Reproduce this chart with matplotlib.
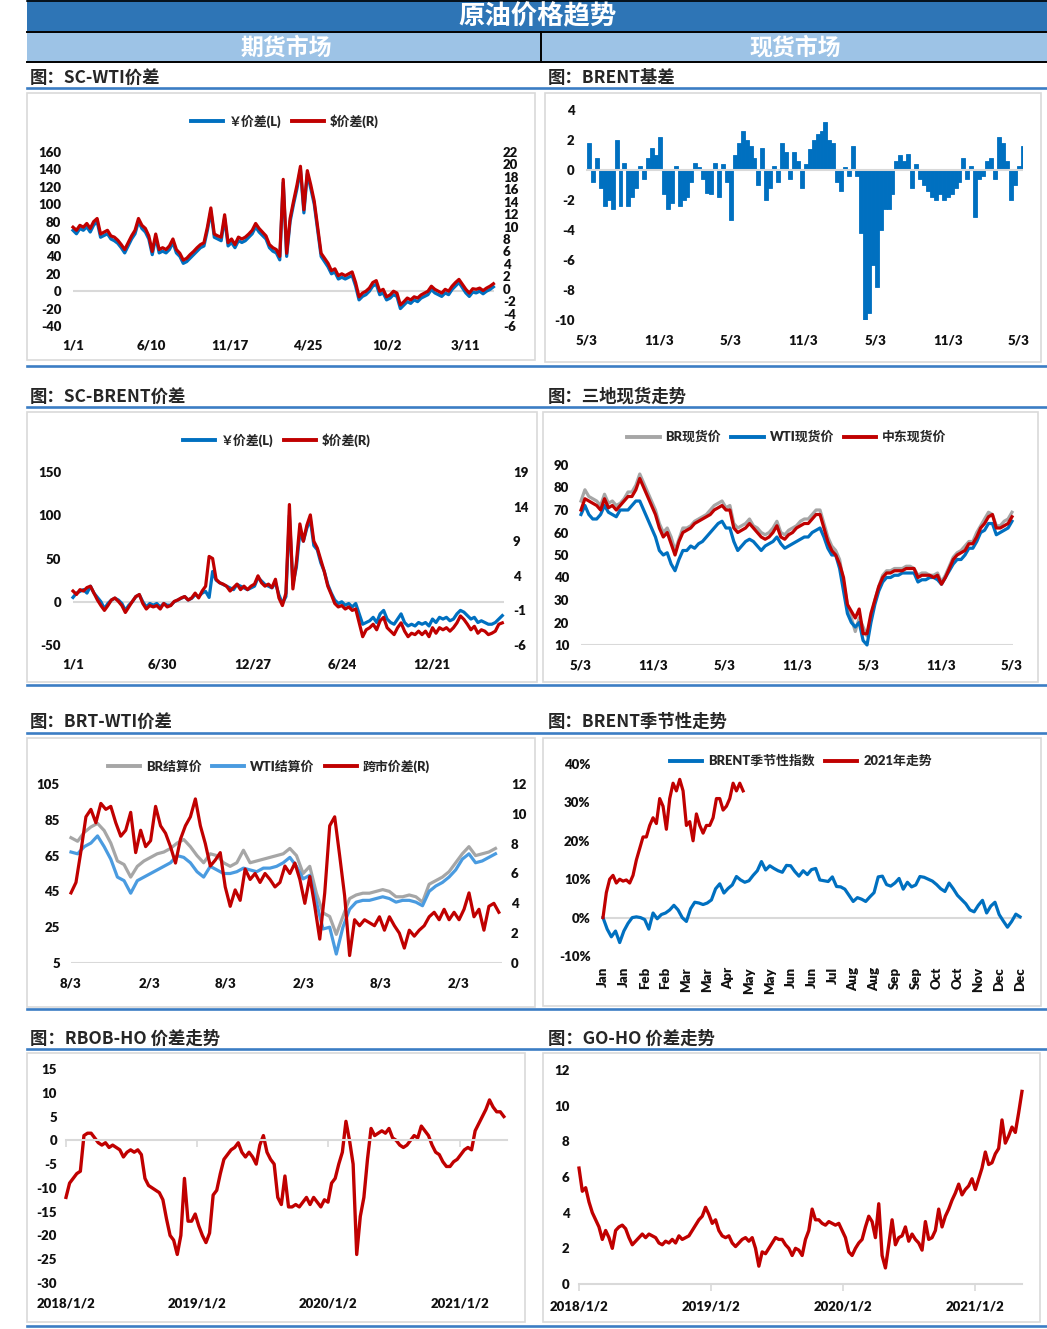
import numpy as np
import pandas as pd
import matplotlib
matplotlib.use('Agg')
import matplotlib.pyplot as plt
import matplotlib.dates as mdates
from matplotlib.patches import Rectangle
from matplotlib.lines import Line2D
from matplotlib.transforms import blended_transform_factory

plt.rcParams['font.family'] = ['Lato', 'Noto Sans CJK SC', 'DejaVu Sans']
plt.rcParams['font.weight'] = 'heavy'
plt.rcParams['axes.unicode_minus'] = False

# ---------------- data ----------------
# SC-WTI spread (weekly, 2019-01-01 .. 2021-05-08)
sc_wti_cny = [70,66,72,70,74,68,76,80,62,64, 66,60,58,55,50,44,52,60,66,80,
              72,68,60,42,62,44,46,44,48,56, 44,40,32,34,38,42,46,50,52,70,
              92,62,60,58,84,52,56,50,58,56, 58,62,66,74,68,64,60,50,46,44,
              36,125,40,80,100,118,140,90,135,118, 100,70,40,34,28,20,22,14,16,14,
              16,18,6,-10,-6,-4,0,6,8,-4, -2,-10,-8,-4,-6,-20,-16,-12,-14,-10,
              -12,-8,-6,-4,2,-2,-4,-6,-2,-4, 2,6,10,4,-2,-6,-1,-2,0,-3, 0,2,5]
sc_wti_usd = [9.9,9.4,10.2,9.9,10.5,9.7,10.8,11.3,8.8,9.1, 9.4,8.5,8.3,7.8,7.1,6.3,7.4,8.5,9.4,11.3,
              10.2,9.7,8.5,6.0,8.8,6.3,6.6,6.3,6.9,8.0, 6.3,5.7,4.6,4.9,5.5,6.0,6.6,7.1,7.4,9.9,
              13.0,8.8,8.5,8.3,11.9,7.4,8.0,7.1,8.3,8.0, 8.3,8.8,9.4,10.5,9.7,9.1,8.5,7.1,6.6,6.3,
              5.2,17.6,5.7,11.3,14.1,16.7,19.7,12.7,19.0,16.7, 14.1,9.9,5.7,4.9,4.1,2.9,3.2,2.1,2.4,2.1,
              2.4,2.7,1.0,-1.3,-0.7,-0.4,0.1,1.0,1.3,-0.4, -0.1,-1.3,-1.0,-0.4,-0.7,-2.6,-2.1,-1.5,-1.8,-1.3,
              -1.5,-1.0,-0.7,-0.4,0.4,-0.1,-0.4,-0.7,-0.1,-0.4, 0.4,1.0,1.5,0.7,-0.1,-0.7,0.0,-0.1,0.1,-0.3,
              0.1,0.4,0.8]
sc_wti_ticks = ['2019-01-01', '2019-06-10', '2019-11-17', '2020-04-25', '2020-10-02', '2021-03-11']
sc_wti_labels = ['1/1', '6/10', '11/17', '4/25', '10/2', '3/11']

# BRENT basis (10-day bars from 2018-05-03)
brent_basis = [1.8,-0.8,0.8,-1.2,-2.4,-2.0,-2.6,2.0,-2.4,0.5, -2.4,-1.8,-1.2,0.3,-0.6,0.8,1.5,1.0,2.2,-1.6,
               -2.6,-2.2,0.3,-2.4,-2.0,-1.8,-0.8,0.5,0.2,-0.6, -1.5,-1.6,0.5,-1.8,0.4,-0.8,-3.3,1.0,1.8,2.6,
               2.0,1.6,0.8,-1.0,1.5,-2.0,-1.2,0.3,-0.8,1.8, 1.2,-0.6,1.2,0.6,-1.2,0.4,1.4,2.0,2.4,2.6,
               3.2,2.0,1.8,-0.8,-1.4,0.2,-0.4,1.6,-0.4,-4.2, -10.0,-9.5,-6.3,-7.8,-4.0,-2.6,-2.6,-1.6,0.6,1.0,
               0.6,1.1,-1.2,0.4,-0.6,-1.0,-1.4,-1.8,-2.0,-1.6, -2.0,-1.8,-1.6,-1.2,-0.8,0.8,-0.6,0.3,-3.1,-0.6,
               -0.4,0.6,0.8,-0.6,2.2,1.8,0.6,-2.0,-1.0,0.3, 1.6]
spot_ticks = ['2018-05-03', '2018-11-03', '2019-05-03', '2019-11-03', '2020-05-03', '2020-11-03', '2021-05-03']
spot_labels = ['5/3', '11/3', '5/3', '11/3', '5/3', '11/3', '5/3']

# SC-BRENT spread (weekly, 2019-01-01 .. 2021-05-11)
sc_brent_cny = [5,10,12,14,10,18,10,5,0,-8, -2,2,4,2,-2,-10,-4,0,6,8,
                0,-6,-2,-4,-2,-6,-2,-4,-4,0, 2,4,6,2,4,8,6,10,12,5,
                35,25,22,20,18,16,14,20,18,16, 14,16,18,28,24,20,18,16,22,8,
                -2,6,100,20,40,80,70,85,95,65, 60,45,35,20,10,2,-2,0,-4,-2,
                -6,-2,-14,-26,-24,-22,-18,-24,-14,-10, -20,-24,-26,-20,-14,-24,-28,-26,-28,-24,
                -26,-24,-28,-20,-24,-18,-20,-18,-22,-20, -14,-10,-12,-16,-20,-18,-24,-22,-24,-26,
                -26,-24,-20,-16]
sc_brent_usd = [1.8,1.3,2.0,1.8,2.3,2.5,1.5,0.5,-0.3,-1.0, -0.3,0.5,0.8,0.3,-0.3,-1.3,-0.5,0.3,1.0,1.3,
                0.0,-0.8,-0.3,-0.5,-0.3,-0.8,0.0,-0.5,-0.3,0.3, 0.5,0.8,1.0,0.5,0.8,1.5,0.8,1.8,2.5,6.8,
                6.5,3.5,3.0,2.8,2.5,1.8,2.3,2.8,2.0,2.5, 2.0,2.5,2.8,4.0,3.0,2.5,2.8,2.3,3.5,0.8,
                -0.3,1.5,14.3,2.1,5.9,11.5,9.0,11.3,12.8,9.0, 8.0,6.3,4.6,2.5,1.3,0.0,-0.5,-0.3,-0.8,-0.5,
                -1.0,-0.8,-2.8,-4.8,-3.8,-3.5,-3.0,-3.8,-2.5,-2.0, -3.5,-4.0,-4.5,-3.5,-2.8,-4.0,-4.8,-4.3,-4.5,-4.0,
                -4.5,-4.0,-4.8,-3.5,-4.3,-3.5,-3.8,-3.5,-4.0,-3.5, -2.8,-1.8,-2.3,-3.0,-3.8,-3.3,-4.3,-3.8,-4.0,-4.5,
                -4.3,-4.0,-3.0,-2.8]
sc_brent_ticks = ['2019-01-01', '2019-06-30', '2019-12-27', '2020-06-24', '2020-12-21']
sc_brent_labels = ['1/1', '6/30', '12/27', '6/24', '12/21']

# three spot prices (10-day steps, 2018-05-03 .. 2021-05-03)
spot_br = [74,79,76,75,74,72,77,73,74,72, 73,75,78,78,81,86,82,78,74,70,
           64,60,62,58,52,57,62,62,63,65, 66,67,68,70,72,73,74,71,72,64,
           62,63,64,66,63,62,60,59,60,62, 65,60,59,61,62,63,65,66,66,68,
           70,70,64,58,54,52,48,38,28,22, 16,22,18,14,22,30,36,41,43,43,
           44,44,44,45,45,44,41,42,42,41, 41,42,38,41,45,49,51,52,54,56,
           56,60,63,66,69,68,63,63,65,66, 69]
spot_wti = [68,72,68,66,66,68,72,69,68,67, 70,70,70,72,74,74,70,66,62,58,
            52,50,51,46,43,48,52,52,54,53, 55,56,58,60,62,64,65,62,62,56,
            52,54,56,57,56,54,52,54,55,56, 58,55,53,54,55,56,57,58,58,60,
            61,62,58,53,50,50,44,34,24,20, 18,20,12,10,20,28,34,38,40,40,
            41,41,42,42,42,42,38,39,39,40, 40,39,37,40,43,46,48,48,50,53,
            53,56,60,61,64,64,59,60,61,62, 65]
spot_me = [70,75,74,73,72,70,75,71,72,70, 72,74,76,76,79,84,80,76,72,68,
           62,58,60,55,50,56,60,61,62,64, 65,66,67,68,70,71,72,70,70,62,
           60,61,62,64,62,60,58,57,58,60, 63,58,57,59,60,62,63,64,64,66,
           68,68,62,56,52,50,46,40,28,25, 22,26,15,15,24,30,36,40,42,42,
           43,43,43,44,44,44,40,41,41,41, 40,41,37,40,44,48,50,51,52,55,
           55,58,62,64,67,68,62,62,63,64, 67]

# BRT-WTI
brt_settle = [75,73,78,81,83,79,72,62,60,53, 59,62,64,66,67,69,72,74,70,65,
              61,66,65,61,59,61,68,61,62,63, 64,65,66,69,65,55,59,44,33,31,
              21,31,41,43,44,44,45,46,45,42, 42,43,42,39,49,51,53,56,61,66,
              70,65,66,67,69]
wti_settle = [67,66,70,72,76,70,63,53,51,44, 51,53,55,57,59,61,65,64,61,56,
              53,59,57,55,55,56,58,57,56,58, 58,59,61,64,59,52,54,39,24,25,
              10,25,35,39,40,40,41,42,41,39, 40,40,39,37,45,48,50,53,57,63,
              66,61,62,64,66]
brt_wti_spread = [4.7,5.4,7.5,9.8,10.3,9.4,10.7,10.3,10.5,9.4, 8.5,8.9,10.1,7.4,8.9,7.8,8.2,10.5,9.2,8.7,
                  7.8,6.7,8.3,9.2,9.8,11.0,9.2,8.0,6.5,6.9, 7.4,5.1,3.8,4.9,4.2,6.3,5.6,6.0,5.4,6.0,
                  5.6,5.1,5.4,6.5,6.0,6.7,5.6,4.0,5.8,3.8, 1.6,4.7,9.2,9.8,7.2,4.5,0.5,2.9,2.5,2.9,
                  2.7,2.5,3.1,2.2,3.1,2.5,2.0,1.0,2.2,1.8, 2.2,2.5,3.1,3.4,2.9,3.6,2.9,3.4,2.9,3.6,
                  4.7,3.1,3.6,2.2,3.8,4.0,3.4]
brt_ticks = ['2018-08-03', '2019-02-03', '2019-08-03', '2020-02-03', '2020-08-03', '2021-02-03']
brt_labels = ['8/3', '2/3', '8/3', '2/3', '8/3', '2/3']

# BRENT seasonality (% , trading-day index 0..250)
season_index = [0,-3,-5,-3.5,-6.5,-3.5,-1.5,0,0.2,0, -0.5,-3,1.2,-0.3,0.8,1.2,2,3.2,2,0,
                -1,2.3,4,3.8,3.4,3.8,4.6,7.5,8.8,6.4, 7.6,8.5,10.7,9.8,9.2,9.6,11,12.2,14.6,12.4,
                13.5,12.8,12.2,11.8,13.6,13.5,12,10.8,12.2,11.2, 12.5,12.8,9.8,9.6,9.4,10.6,8.1,8.0,7.4,5.8,
                4.2,5.2,4.8,4.2,5.4,6.5,10.6,10.8,8.6,8.2, 9.0,10.2,7.4,9.2,8.0,8.5,10.7,10.5,10.0,9.5,
                8.6,7.5,6.8,9.0,7.5,5.8,4.7,3.6,2.0,1.5, 3.2,4.5,1.2,3.0,4.0,0.8,-0.9,-2.5,-1.0,0.9,
                0.2]
season_2021 = [0,6.5,10,11,9,10,9.5,9.8,9,11, 15,18,21,21,24,26,24.5,31,29,23,
               31,35,33,36,33,24,25,20,27,24, 22,24,24,26,31,31,28,29,31,35,
               33,35,33]
months = ['Jan','Jan','Feb','Feb','Mar','Mar','Apr','May','May','Jun','Jun',
          'Jul','Aug','Aug','Sep','Sep','Oct','Oct','Nov','Dec','Dec']

# RBOB-HO and GO-HO
rbob_ho = [-12,-9,-8,-7,-6.5,1,1.5,1.5,0.5,-0.5, -1,-0.5,-1.5,-1,-1.5,-2,-3.5,-2.5,-2,-2.5,
           -2,-3,-8,-9.5,-10,-10.5,-11,-12.5,-16.5,-20, -21,-24,-20,-8,-17,-17,-15.5,-18,-20,-21.5,
           -19.5,-11.5,-10.5,-7,-4,-3,-2,-1.5,-0.5,-2.5, -3.5,-2.5,-3.5,-5,-1,1,-2.5,-4,-5,-12,
           -13.5,-7.5,-14,-14,-13.5,-14,-13,-12,-13.5,-12, -13,-14,-12.5,-13,-9,-8,-5,-2.5,4,0,
           -5,-24,-16,-12,-4,2.5,1,1.5,2,1.5, 2.5,0.5,0,-1,-1.5,-1,0,1,0.5,3,
           2,1,-1,-2.5,-3,-4.5,-5.5,-5.5,-4.5,-4, -3,-2,-1.5,-2,2,3.5,5,6.5,8.5,7,
           6,6,5]
go_ho = [6.5,5.2,5.4,4.6,4.0,3.6,3.2,2.5,3.0,2.6, 2.0,3.0,3.2,3.3,3.1,2.6,2.2,2.4,2.6,2.8,
         2.6,2.8,2.7,2.6,2.3,2.2,2.4,2.3,2.5,2.3, 2.7,2.5,2.6,2.7,3.0,3.3,3.6,3.8,4.3,3.9,
         3.4,3.6,3.0,2.7,2.6,2.7,2.3,2.1,2.3,2.5, 2.6,2.4,2.6,2.0,1.0,1.8,1.7,2.0,2.3,2.6,
         2.5,2.5,2.2,2.0,1.6,2.0,1.9,1.6,2.5,3.0, 4.2,3.6,3.6,3.4,3.3,3.5,3.4,3.3,3.4,3.0,
         2.6,1.8,1.6,2.0,2.3,2.5,3.2,3.8,3.5,2.6, 4.5,1.6,0.9,2.2,3.6,2.2,2.6,2.7,3.2,2.4,
         2.8,2.5,2.3,1.9,3.5,2.5,2.6,3.0,4.2,3.2, 3.8,4.2,4.7,5.1,5.6,5.0,5.3,5.5,5.9,5.3,
         5.9,6.5,7.4,6.7,6.8,7.3,7.6,9.2,7.9,8.3, 8.8,8.5,9.6,10.8]
year_ticks = ['2018-01-02', '2019-01-02', '2020-01-02', '2021-01-02']
year_labels = ['2018/1/2', '2019/1/2', '2020/1/2', '2021/1/2']

# ---------------- layout helpers ----------------
W, H = 1047, 1329
fig = plt.figure(figsize=(W / 100, H / 100), dpi=100)
fig.patch.set_facecolor('white')

CJK = ['Noto Sans CJK SC', 'DejaVu Sans']
BLUE = '#0070C0'
RED = '#C00000'
GRAY = '#A6A6A6'
LBLUE = '#4A9BE0'
GRID = '#D9D9D9'
TXT = '#111111'
FS = 9.5
LW = 2.3


def fx(x):
    return x / W


def fy(y):
    return 1 - y / H


def frect(x0, y0, x1, y1, **kw):
    fig.add_artist(Rectangle((fx(x0), fy(y1)), fx(x1) - fx(x0), fy(y0) - fy(y1),
                             transform=fig.transFigure, **kw))


def fline(x0, y0, x1, y1, **kw):
    fig.add_artist(Line2D([fx(x0), fx(x1)], [fy(y0), fy(y1)], transform=fig.transFigure, **kw))


def ftext(x, y, s, **kw):
    fig.text(fx(x), fy(y), s, **kw)


def dn(s):
    return mdates.date2num(pd.Timestamp(s))


def drange(start, end, n):
    return mdates.date2num(pd.date_range(start, end, periods=n).values)


def place(xref, yref, xlim, ylim):
    (xa, pa), (xb, pb) = xref
    bx = (pb - pa) / (xb - xa)
    px0 = pa + bx * (xlim[0] - xa)
    px1 = pa + bx * (xlim[1] - xa)
    (ya, qa), (yb, qb) = yref
    by = (qb - qa) / (yb - ya)
    qlo = qa + by * (ylim[0] - ya)
    qhi = qa + by * (ylim[1] - ya)
    ax = fig.add_axes([fx(px0), fy(qlo), (px1 - px0) / W, (qlo - qhi) / H])
    ax.set_xlim(xlim)
    ax.set_ylim(ylim)
    ax.set_facecolor('none')
    for s in ax.spines.values():
        s.set_visible(False)
    return ax


def style(ax, xpad, ypad):
    ax.tick_params(axis='both', length=0, labelsize=FS, colors=TXT)
    ax.tick_params(axis='x', pad=xpad)
    ax.tick_params(axis='y', pad=ypad)


def twin(ax, ylim, ticks, pad):
    a2 = ax.twinx()
    a2.set_ylim(ylim)
    a2.set_facecolor('none')
    for s in a2.spines.values():
        s.set_visible(False)
    a2.set_yticks(ticks, [str(t) for t in ticks])
    a2.tick_params(axis='y', length=0, labelsize=FS, colors=TXT, pad=pad)
    return a2


def legend(cx, cy, items):
    handles = [Line2D([], [], color=c, lw=2.8) for c, _ in items]
    fig.legend(handles, [t for _, t in items], loc='center', bbox_to_anchor=(fx(cx), fy(cy)),
               ncol=len(items), frameon=False, fontsize=9.3, handlelength=2.5, handletextpad=0.45,
               columnspacing=0.8, borderaxespad=0, borderpad=0, labelcolor='#262626')


def panel_title(x, y, s):
    ftext(x, y, s, ha='left', va='center', fontsize=12.5, family=CJK, weight='bold', color='#262626')


# ---------------- header ----------------
frect(27, 0, 1047, 31, facecolor='#2E75B6', edgecolor='none')
frect(27, 32, 1047, 62, facecolor='#9DC3E6', edgecolor='none')
fline(27, 0.8, 1047, 0.8, color='black', lw=1.2)
fline(27, 31.5, 1047, 31.5, color='black', lw=1.4)
fline(27, 62.3, 1047, 62.3, color='black', lw=1.4)
fline(541, 32, 541, 62, color='black', lw=1.4)
ftext(538, 17, '原油价格趋势', ha='center', va='center', color='white', fontsize=19, family=CJK, weight='bold')
ftext(286, 48, '期货市场', ha='center', va='center', color='white', fontsize=16.5, family=CJK, weight='bold')
ftext(795, 48, '现货市场', ha='center', va='center', color='white', fontsize=16.5, family=CJK, weight='bold')

# blue separators and panel frames
for yb in [88, 366, 407, 685, 733, 1009, 1049, 1326]:
    fline(27, yb, 1047, yb, color='#3B7DC4', lw=1.9)
for (x0, y0, x1, y1) in [(27, 93, 535, 360), (545, 93, 1041, 362), (27, 412, 537, 682), (543, 412, 1038, 682),
                         (27, 738, 535, 1007), (543, 738, 1041, 1006), (27, 1053, 525, 1322), (543, 1053, 1040, 1322)]:
    frect(x0, y0, x1, y1, facecolor='none', edgecolor=GRID, lw=1.2)

panel_title(30, 78, '图：SC-WTI价差')
panel_title(548, 78, '图：BRENT基差')
panel_title(30, 397, '图：SC-BRENT价差')
panel_title(548, 397, '图：三地现货走势')
panel_title(30, 722, '图：BRT-WTI价差')
panel_title(548, 722, '图：BRENT季节性走势')
panel_title(30, 1039, '图：RBOB-HO 价差走势')
panel_title(548, 1039, '图：GO-HO 价差走势')

# ---------------- P1 SC-WTI ----------------
ax = place(((dn('2019-01-01'), 73), (dn('2021-03-11'), 465)), ((160, 152), (-40, 326)),
           (dn('2019-01-01'), dn('2021-05-09')), (-40, 160))
ax.axhline(0, color=GRID, lw=1.5, zorder=0)
x1 = drange('2019-01-01', '2021-05-08', len(sc_wti_cny))
ax.plot(x1, sc_wti_cny, color=BLUE, lw=LW, clip_on=False)
ax.set_xticks([dn(s) for s in sc_wti_ticks], sc_wti_labels)
ax.set_yticks(range(-40, 161, 20), [str(v) for v in range(-40, 161, 20)])
style(ax, 10, 8.5)
a2 = twin(ax, (-6, 22), list(range(-6, 23, 2)), 6.5)
a2.plot(drange('2019-01-01', '2021-05-08', len(sc_wti_usd)), sc_wti_usd, color=RED, lw=LW, clip_on=False)
legend(285, 121, [(BLUE, '￥价差(L)'), (RED, '$价差(R)')])

# ---------------- P2 BRENT basis ----------------
ax = place(((dn('2018-05-03'), 587), (dn('2021-05-03'), 1019)), ((4, 110), (-10, 320)),
           (dn('2018-04-30'), dn('2021-05-12')), (-10, 4))
xb = mdates.date2num(pd.date_range('2018-05-03', periods=len(brent_basis), freq='10D').values)
ax.bar(xb, brent_basis, width=10, align='edge', color=BLUE, edgecolor=BLUE, linewidth=0.6)
ax.axhline(0, color=GRID, lw=1.5, zorder=3)
ax.set_xticks([dn(s) for s in spot_ticks], spot_labels)
ax.set_yticks(range(-10, 5, 2), [str(v) for v in range(-10, 5, 2)])
style(ax, 10.5, 8)

# ---------------- P3 SC-BRENT ----------------
ax = place(((dn('2019-01-01'), 73), (dn('2020-12-21'), 432)), ((150, 472), (-50, 645)),
           (dn('2019-01-01'), dn('2021-05-14')), (-50, 150))
ax.axhline(0, color=GRID, lw=1.5, zorder=0)
ax.plot(drange('2019-01-01', '2021-05-11', len(sc_brent_cny)), sc_brent_cny, color=BLUE, lw=LW, clip_on=False)
ax.set_xticks([dn(s) for s in sc_brent_ticks], sc_brent_labels)
ax.set_yticks(range(-50, 151, 50), [str(v) for v in range(-50, 151, 50)])
style(ax, 10, 8.5)
a2 = twin(ax, (-6, 19), list(range(-6, 20, 5)), 6.5)
a2.plot(drange('2019-01-01', '2021-05-11', len(sc_brent_usd)), sc_brent_usd, color=RED, lw=LW, clip_on=False)
legend(277, 440, [(BLUE, '￥价差(L)'), (RED, '$价差(R)')])

# ---------------- P4 three spot ----------------
ax = place(((dn('2018-05-03'), 581), (dn('2021-05-03'), 1012)), ((90, 465), (10, 645)),
           (dn('2018-05-03'), dn('2021-05-06')), (10, 90))
ax.axhline(10, color=GRID, lw=1.5, zorder=0)
ax.plot(drange('2018-05-03', '2021-05-03', len(spot_br)), spot_br, color=GRAY, lw=LW, clip_on=False)
ax.plot(drange('2018-05-03', '2021-05-03', len(spot_wti)), spot_wti, color=BLUE, lw=LW, clip_on=False)
ax.plot(drange('2018-05-03', '2021-05-03', len(spot_me)), spot_me, color=RED, lw=LW, clip_on=False)
ax.set_xticks([dn(s) for s in spot_ticks], spot_labels)
ax.set_yticks(range(10, 91, 10), [str(v) for v in range(10, 91, 10)])
style(ax, 10.5, 8.5)
legend(787, 437, [(GRAY, 'BR现货价'), (BLUE, 'WTI现货价'), (RED, '中东现货价')])

# ---------------- P5 BRT-WTI ----------------
ax = place(((dn('2018-08-03'), 71), (dn('2021-02-03'), 459)), ((105, 784), (5, 963)),
           (dn('2018-08-03'), dn('2021-05-15')), (5, 105))
ax.axhline(5, color=GRID, lw=1.5, zorder=0)
ax.plot(drange('2018-08-03', '2021-04-30', len(brt_settle)), brt_settle, color=GRAY, lw=LW, clip_on=False)
ax.plot(drange('2018-08-03', '2021-04-30', len(wti_settle)), wti_settle, color=LBLUE, lw=LW, clip_on=False)
ax.set_xticks([dn(s) for s in brt_ticks], brt_labels)
ax.set_yticks(range(5, 106, 20), [str(v) for v in range(5, 106, 20)])
style(ax, 10.5, 8)
a2 = twin(ax, (0, 12), list(range(0, 13, 2)), 6.5)
a2.plot(drange('2018-08-03', '2021-05-08', len(brt_wti_spread)), brt_wti_spread, color=RED, lw=LW, clip_on=False)
legend(269, 766, [(GRAY, 'BR结算价'), (LBLUE, 'WTI结算价'), (RED, '跨市价差(R)')])

# ---------------- P6 seasonality ----------------
ax = place(((0, 603), (250, 1020)), ((40, 764), (-10, 956)), (0, 251), (-10, 40))
ax.axhline(0, color=GRID, lw=1.5, zorder=0)
ax.plot(np.linspace(0, 250, len(season_index)), season_index, color=BLUE, lw=LW, clip_on=False)
ax.plot(np.arange(len(season_2021)) * 2, season_2021, color=RED, lw=LW, clip_on=False)
ax.set_xticks(np.linspace(0, 250, len(months)), months, rotation=90, va='top', ha='center')
ax.set_yticks(range(-10, 41, 10), [f'{v}%' for v in range(-10, 41, 10)])
style(ax, 8, 9)
legend(801, 761, [(BLUE, 'BRENT季节性指数'), (RED, '2021年走势')])

# ---------------- P7 RBOB-HO ----------------
ax = place(((dn('2018-01-02'), 66), (dn('2021-01-02'), 460)), ((15, 1069), (-30, 1283)),
           (dn('2018-01-02'), dn('2021-05-13')), (-30, 15))
ax.spines['bottom'].set_visible(True)
ax.spines['bottom'].set_position(('data', 0))
ax.spines['bottom'].set_color(GRID)
ax.spines['bottom'].set_linewidth(1.5)
ax.plot(drange('2018-01-02', '2021-05-04', len(rbob_ho)), rbob_ho, color=RED, lw=2.4, clip_on=False)
tpos = [dn(s) for s in year_ticks]
ax.set_xticks(tpos)
ax.set_yticks(range(-30, 16, 5), [str(v) for v in range(-30, 16, 5)])
style(ax, 10, 6.5)
ax.tick_params(axis='x', length=5, width=1.2, color=GRID, labelbottom=False)
tr = blended_transform_factory(ax.transData, ax.transAxes)
for p, lab in zip(tpos, year_labels):
    ax.text(p, -20 / 214, lab, transform=tr, ha='center', va='center', fontsize=FS, color=TXT)

# ---------------- P8 GO-HO ----------------
ax = place(((dn('2018-01-02'), 579), (dn('2021-01-02'), 975)), ((12, 1070), (0, 1284)),
           (dn('2018-01-02'), dn('2021-05-13')), (0, 12))
ax.spines['bottom'].set_visible(True)
ax.spines['bottom'].set_color(GRID)
ax.spines['bottom'].set_linewidth(1.5)
ax.plot(drange('2018-01-02', '2021-05-12', len(go_ho)), go_ho, color=RED, lw=2.4, clip_on=False)
ax.set_xticks([dn(s) for s in year_ticks], year_labels)
ax.set_yticks(range(0, 13, 2), [str(v) for v in range(0, 13, 2)])
style(ax, 7, 7)
ax.tick_params(axis='x', length=5, width=1.2, color=GRID)

fig.savefig('out.png', dpi=100)
